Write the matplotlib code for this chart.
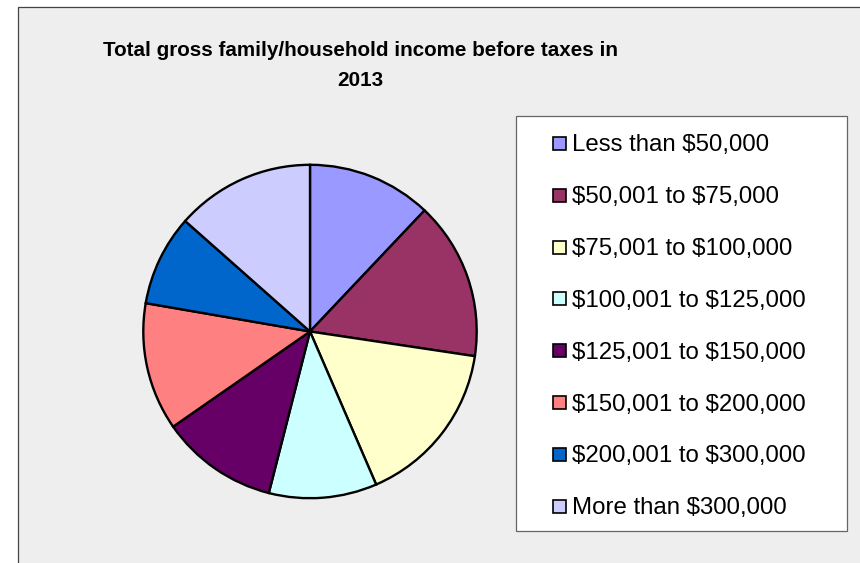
import matplotlib
matplotlib.use('Agg')
import matplotlib.pyplot as plt
from matplotlib.patches import Rectangle

# ---- data ----
categories = ["Less than $50,000", "$50,001 to $75,000", "$75,001 to $100,000",
              "$100,001 to $125,000", "$125,001 to $150,000", "$150,001 to $200,000",
              "$200,001 to $300,000", "More than $300,000"]
shares = [12.06, 15.31, 16.14, 10.47, 11.36, 12.39, 8.81, 13.47]
colors = ["#9999FF", "#993366", "#FFFFCC", "#CCFFFF", "#660066", "#FF8080", "#0066CC", "#CCCCFF"]
title_lines = ["Total gross family/household income before taxes in", "2013"]

W, H = 860, 563
fig = plt.figure(figsize=(W / 100, H / 100), dpi=100)
fig.patch.set_facecolor('white')


def fx(x):
    return x / W


def fy(y):
    return 1 - y / H


# chart area background with left/top border
fig.patches.append(Rectangle((fx(18), fy(H + 10)), (W + 10 - 18) / W, (H + 10 - 7) / H,
                             transform=fig.transFigure, facecolor='#EEEEEE',
                             edgecolor='#444444', linewidth=0.9, zorder=-5))

# pie
cx, cy, R, pad = 310, 331.5, 166.7, 1.05
ax = fig.add_axes([fx(cx - R * pad), fy(cy + R * pad), 2 * R * pad / W, 2 * R * pad / H])
ax.set_zorder(5)
ax.pie(shares, colors=colors, startangle=90, counterclock=False,
       wedgeprops=dict(edgecolor='black', linewidth=1.7))
ax.set_xlim(-pad, pad)
ax.set_ylim(-pad, pad)
ax.set_aspect('equal')
ax.axis('off')

# legend box
lx0, ly0, lx1, ly1 = 516, 116, 847, 531
fig.patches.append(Rectangle((fx(lx0), fy(ly1)), (lx1 - lx0) / W, (ly1 - ly0) / H,
                             transform=fig.transFigure, facecolor='white',
                             edgecolor='#666666', linewidth=0.9, zorder=1))

renderer = fig.canvas.get_renderer()

# legend entries
row0, pitch = 151, 51.9
texts = []
for i, (lab, col) in enumerate(zip(categories, colors)):
    base = row0 + i * pitch
    fig.patches.append(Rectangle((fx(552.5), fy(base - 1.3)), 13 / W, 13 / H,
                                 transform=fig.transFigure, facecolor=col,
                                 edgecolor='black', linewidth=1.2, zorder=2))
    t = fig.text(fx(571.5), fy(base), lab, fontsize=16, family='Liberation Sans',
                 ha='left', va='baseline', color='black', zorder=3, parse_math=False)
    texts.append(t)
w0 = texts[0].get_window_extent(renderer).width
fs = 16 * 198 / w0
for t in texts:
    t.set_fontsize(fs)

# title
tkw = dict(family='Liberation Sans', fontweight='bold')
t1 = fig.text(fx(360.5), fy(56), title_lines[0], fontsize=16, ha='center', va='baseline', **tkw)
t2 = fig.text(fx(360.5), fy(86), title_lines[1], fontsize=16, ha='center', va='baseline', **tkw)
w1 = t1.get_window_extent(renderer).width
tfs = 16 * 515 / w1
t1.set_fontsize(tfs)
t2.set_fontsize(tfs)

fig.savefig('out.png', dpi=100)
